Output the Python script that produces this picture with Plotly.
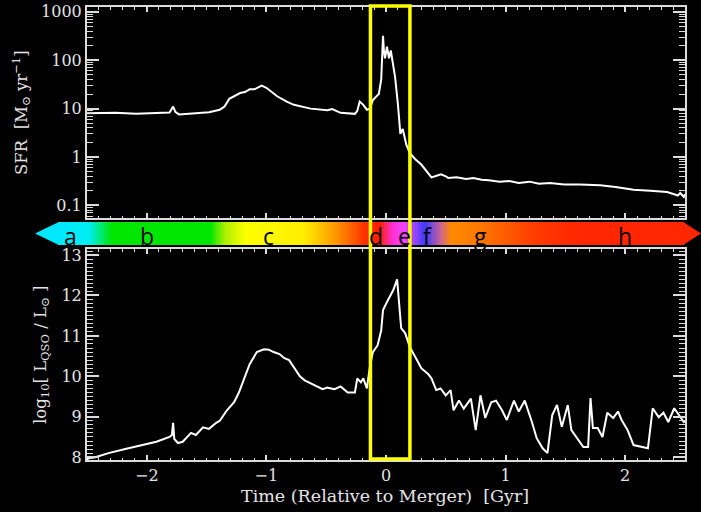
import plotly.graph_objects as go

# ---------------- data ----------------
t_sfr = [-2.50, -2.43, -2.26, -2.09, -1.92, -1.81, -1.78, -1.76, -1.73, -1.63, -1.48, -1.39,
         -1.35, -1.31, -1.22, -1.18, -1.14, -1.10, -1.04, -1.00, -0.91, -0.83, -0.77, -0.63,
         -0.49, -0.45, -0.38, -0.26, -0.24, -0.22, -0.19, -0.16, -0.135, -0.11, -0.06, -0.04,
         -0.025, -0.017, -0.008, 0.008, 0.025, 0.04, 0.06, 0.076, 0.10, 0.12, 0.14, 0.17, 0.20,
         0.245, 0.295, 0.33, 0.38, 0.41, 0.46, 0.50, 0.52, 0.59, 0.67, 0.73, 0.80, 0.86, 0.95,
         1.03, 1.11, 1.20, 1.28, 1.37, 1.49, 1.62, 1.79, 1.92, 2.07, 2.21, 2.35, 2.41, 2.44,
         2.46, 2.49, 2.50]
sfr = [8.0, 8.0, 8.2, 7.8, 8.0, 8.3, 11.0, 8.5, 7.6, 8.0, 8.4, 9.5,
       11.0, 16.0, 21.0, 22.0, 25.0, 25.0, 30.0, 27.0, 18.0, 14.0, 12.0, 10.0,
       9.3, 9.8, 8.2, 7.8, 9.0, 14.0, 12.0, 9.5, 10.0, 15.0, 20.0, 40.0,
       320.0, 150.0, 110.0, 190.0, 110.0, 160.0, 80.0, 45.0, 12.0, 3.0, 3.8, 1.8, 1.2,
       0.9, 0.7, 0.55, 0.38, 0.40, 0.44, 0.40, 0.37, 0.38, 0.35, 0.37, 0.34, 0.33, 0.31,
       0.32, 0.29, 0.31, 0.28, 0.29, 0.27, 0.27, 0.26, 0.24, 0.21, 0.20, 0.19, 0.17, 0.16,
       0.18, 0.15, 0.17]

t_lq = [-2.50, -2.49, -2.43, -2.32, -2.18, -2.03, -1.92, -1.81, -1.79, -1.78, -1.77, -1.74,
        -1.70, -1.63, -1.59, -1.53, -1.48, -1.42, -1.39, -1.33, -1.27, -1.23, -1.19, -1.14,
        -1.08, -1.02, -0.98, -0.94, -0.89, -0.85, -0.81, -0.77, -0.72, -0.68, -0.63, -0.57,
        -0.53, -0.49, -0.43, -0.38, -0.32, -0.26, -0.24, -0.21, -0.19, -0.16, -0.135, -0.11,
        -0.07, -0.04, -0.025, 0.017, 0.06, 0.093, 0.127, 0.16, 0.20, 0.245, 0.295, 0.354,
        0.38, 0.42, 0.456, 0.50, 0.54, 0.565, 0.61, 0.65, 0.71, 0.75, 0.79, 0.83, 0.88, 0.92,
        0.97, 1.01, 1.07, 1.11, 1.16, 1.22, 1.26, 1.31, 1.35, 1.39, 1.43, 1.47, 1.52, 1.55,
        1.60, 1.65, 1.69, 1.71, 1.73, 1.77, 1.81, 1.85, 1.90, 1.94, 1.97, 2.02, 2.07, 2.15,
        2.19, 2.23, 2.28, 2.32, 2.36, 2.41, 2.45, 2.49, 2.50]
lq = [7.93, 7.97, 8.00, 8.10, 8.20, 8.30, 8.38, 8.50, 8.55, 8.85, 8.45, 8.35,
      8.38, 8.60, 8.55, 8.74, 8.70, 8.85, 8.90, 9.16, 9.36, 9.60, 9.90, 10.30,
      10.60, 10.67, 10.66, 10.60, 10.55, 10.45, 10.40, 10.23, 10.00, 9.90, 9.83, 9.75,
      9.68, 9.72, 9.68, 9.75, 9.60, 9.60, 9.95, 9.85, 9.95, 9.70, 10.23, 10.60,
      10.77, 11.14, 11.64, 11.89, 12.13, 12.40, 11.19, 11.07, 10.72, 10.48, 10.20, 10.05,
      9.95, 9.66, 9.70, 9.53, 9.66, 9.16, 9.40, 9.20, 9.45, 8.67, 9.53, 8.97, 9.36, 9.40,
      9.16, 8.92, 9.40, 9.13, 9.40, 8.87, 8.47, 8.22, 8.10, 9.04, 9.29, 8.75, 9.29, 8.67,
      8.47, 8.25, 8.25, 9.46, 8.72, 8.72, 8.50, 9.10, 8.97, 9.13, 8.92, 8.67, 8.30, 8.25,
      8.22, 9.21, 8.99, 9.10, 8.87, 9.21, 9.04, 8.87, 8.90]

sfr_tickvals = [0.1, 1, 10, 100, 1000]
sfr_ticktext = ["0.1", "1", "10", "100", "1000"]

# merger-phase colour band (time of each colour stop)
phase_stop_t = [-2.785, -2.52, -2.33, -1.50, -1.38, -1.20, -0.71, -0.45, -0.18, -0.07,
                0.04, 0.14, 0.24, 0.31, 0.44, 0.53, 0.76, 1.25, 1.63, 2.50]
phase_stop_col = ["#00e8ff", "#00eef0", "#00e600", "#00e600", "#a8f000", "#ffff00",
                  "#ffee00", "#ff9a00", "#ff2a00", "#ff2000", "#ff30d8", "#ee44ff",
                  "#8a44ff", "#3a3aff", "#c8609c", "#ff8a00", "#ff7a00", "#ff3a00",
                  "#ff2600", "#ff2600"]
phase_labels = ["a", "b", "c", "d", "e", "f", "g", "h"]
phase_label_t = [-2.68, -2.03, -1.01, -0.10, 0.14, 0.335, 0.78, 2.00]

merger_window = [-0.13, 0.20]

# ---------------- figure ----------------
W, H = 701, 512
def px(x):
    return x / W
def py(y):
    return 1 - y / H

fg = "#dcdcdc"
txt = "#e4e4e4"
serif = "DejaVu Serif"

fig = go.Figure()
fig.add_trace(go.Scatter(x=t_sfr, y=sfr, mode="lines", line=dict(color="white", width=2),
                         xaxis="x", yaxis="y", hoverinfo="skip"))
fig.add_trace(go.Scatter(x=t_lq, y=lq, mode="lines", line=dict(color="white", width=2),
                         xaxis="x2", yaxis="y2", hoverinfo="skip"))

# colour band as a 1-row heatmap
tmin, tmax = phase_stop_t[0], phase_stop_t[-1]
nb = 400
band_x = [tmin + (tmax - tmin) * i / (nb - 1) for i in range(nb)]
cscale = [[(t - tmin) / (tmax - tmin), c] for t, c in zip(phase_stop_t, phase_stop_col)]
fig.add_trace(go.Heatmap(x=band_x, y=[0], z=[band_x], colorscale=cscale, zmin=tmin, zmax=tmax,
                         showscale=False, xaxis="x3", yaxis="y3", hoverinfo="skip"))

xdom = [px(87), px(685)]
common = dict(showline=True, linecolor=fg, linewidth=2, mirror="allticks", ticks="inside",
              tickcolor=fg, showgrid=False, zeroline=False)
xcommon = dict(common, range=[-2.5, 2.5], domain=xdom, tickmode="linear", tick0=0, dtick=1,
               ticklen=5, tickwidth=1.5,
               minor=dict(ticks="inside", ticklen=2.5, tickwidth=1, tickcolor=fg,
                          tickmode="linear", tick0=0, dtick=0.1))

fig.update_layout(
    width=W, height=H, template="none",
    font=dict(family=serif, size=16, color=txt),
    paper_bgcolor="black", plot_bgcolor="black",
    margin=dict(l=0, r=0, t=0, b=0),
    showlegend=False,
    xaxis=dict(xcommon, anchor="y", showticklabels=False),
    yaxis=dict(common, type="log", range=[-1.26, 3.1], domain=[py(218), py(7)], anchor="x",
               tickmode="array", tickvals=sfr_tickvals, ticktext=sfr_ticktext,
               ticklen=12, tickwidth=1.5,
               minor=dict(ticks="inside", ticklen=6, tickwidth=1, tickcolor=fg,
                          tickmode="linear", dtick="D1")),
    xaxis2=dict(xcommon, anchor="y2", showticklabels=True),
    yaxis2=dict(common, range=[7.93, 13.15], domain=[py(460), py(249)], anchor="x2",
                tickmode="linear", tick0=0, dtick=1, ticklen=12, tickwidth=1.5,
                minor=dict(ticks="inside", ticklen=6, tickwidth=1, tickcolor=fg,
                           tickmode="linear", tick0=0, dtick=0.1)),
    xaxis3=dict(domain=[px(58), px(684)], range=[tmin, tmax], visible=False, anchor="y3",
                fixedrange=True),
    yaxis3=dict(domain=[py(245), py(222)], range=[-0.5, 0.5], visible=False, anchor="x3",
                fixedrange=True),
)
fig.update_xaxes(tickfont=dict(family=serif, size=16, color=txt))
fig.update_yaxes(tickfont=dict(family=serif, size=16, color=txt))

# arrow heads of the colour band
yt, yb = py(222), py(245)
yc = (yt + yb) / 2
fig.add_shape(type="path", xref="paper", yref="paper",
              path=f"M {px(35)} {yc} L {px(58.8)} {yt} L {px(58.8)} {yb} Z",
              fillcolor=phase_stop_col[0], line=dict(width=0))
fig.add_shape(type="path", xref="paper", yref="paper",
              path=f"M {px(683.2)} {yt} L {px(701)} {yc} L {px(683.2)} {yb} Z",
              fillcolor=phase_stop_col[-1], line=dict(width=0))

for lab, tl in zip(phase_labels, phase_label_t):
    fig.add_annotation(x=tl, y=py(235.5), xref="x3", yref="paper", text=lab, showarrow=False,
                       xanchor="center", yanchor="middle",
                       font=dict(family="Open Sans", size=23, color="black"))

# merger window box
fig.add_shape(type="rect", xref="x", yref="paper", x0=merger_window[0], x1=merger_window[1],
              y0=py(459), y1=py(6), line=dict(color="#ffff00", width=3.5), layer="above")

# axis titles
fig.add_annotation(x=px(21), y=py(113), xref="paper", yref="paper", textangle=-90,
                   xanchor="center", yanchor="middle",
                   text="SFR  [M<sub>⊙</sub> yr<sup>−1</sup>]", showarrow=False,
                   font=dict(family=serif, size=16.5, color=txt))
fig.add_annotation(x=px(41), y=py(355), xref="paper", yref="paper", textangle=-90,
                   xanchor="center", yanchor="middle",
                   text="log<sub>10</sub>[ L<sub>QSO</sub> / L<sub>⊙</sub> ]", showarrow=False,
                   font=dict(family=serif, size=16.5, color=txt))
fig.add_annotation(x=px(385), y=py(496), xref="paper", yref="paper",
                   xanchor="center", yanchor="middle",
                   text="Time (Relative to Merger)  [Gyr]", showarrow=False,
                   font=dict(family=serif, size=17.5, color=txt))

fig.write_html("out.html")
